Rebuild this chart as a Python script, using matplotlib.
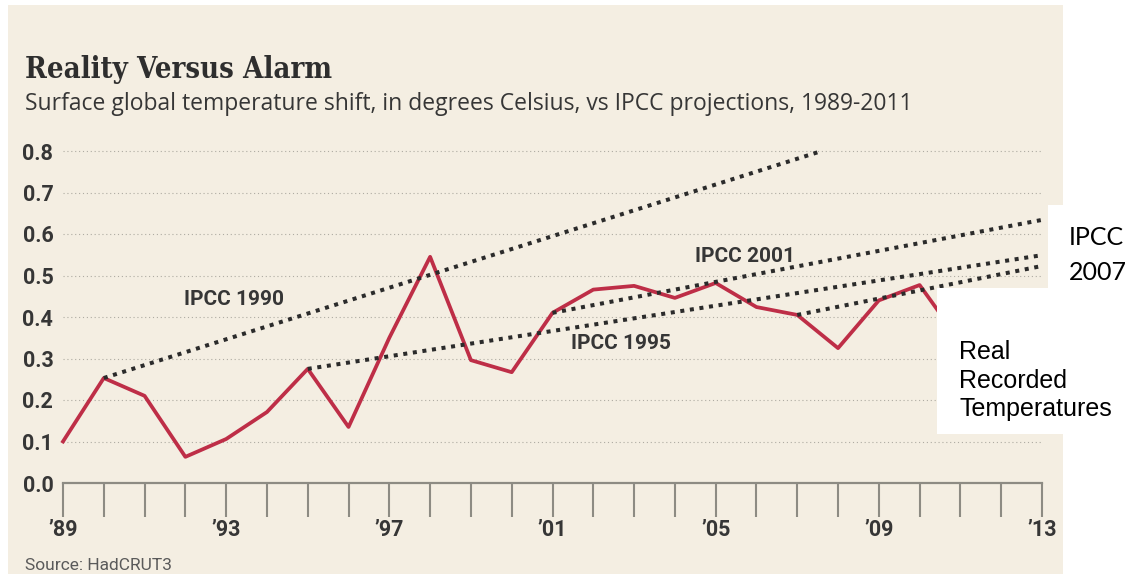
import numpy as np
import matplotlib
matplotlib.use('Agg')
import matplotlib.pyplot as plt
from matplotlib.patches import Rectangle

# HadCRUT3 annual anomalies
years = list(range(1989, 2012))
real_temps = [0.10, 0.253, 0.21, 0.063, 0.106, 0.171, 0.275, 0.135, 0.35, 0.545,
              0.296, 0.267, 0.41, 0.466, 0.475, 0.446, 0.482, 0.424, 0.405, 0.325,
              0.44, 0.477, 0.34]

# IPCC projection lines (start / end points)
ipcc_1990_x = [1990, 2007.6]
ipcc_1990_y = [0.253, 0.80]
ipcc_1995_x = [1995, 2013]
ipcc_1995_y = [0.275, 0.549]
ipcc_2001_x = [2001, 2013]
ipcc_2001_y = [0.41, 0.634]
ipcc_2007_x = [2007, 2013]
ipcc_2007_y = [0.405, 0.523]

major_years = list(range(1989, 2014, 4))
major_labels = ['\u2019' + str(y)[2:] for y in major_years]
y_ticks = [round(v * 0.1, 1) for v in range(0, 9)]

W, H = 1133, 575
NARROW = ['Liberation Sans Narrow', 'Roboto', 'DejaVu Sans']
TXT = '#363636'
BEIGE = '#f4eee2'

fig = plt.figure(figsize=(W / 100, H / 100), dpi=100)
fig.patch.set_facecolor('white')


def px_rect(x0, y0, x1, y1, color, z):
    # rectangle given in pixel coords measured from the top-left corner
    r = Rectangle((x0 / W, 1 - y1 / H), (x1 - x0) / W, (y1 - y0) / H,
                  transform=fig.transFigure, facecolor=color, edgecolor='none',
                  zorder=z)
    fig.add_artist(r)


px_rect(8, 5, 1063, 574, BEIGE, -1)

ax = fig.add_axes([63 / W, 1 - 483 / H, (1042 - 63) / W, (483 - 142.7) / H])
ax.patch.set_visible(False)
ax.set_xlim(1989, 2013)
ax.set_ylim(0, 0.82)

for s in ['left', 'right', 'top']:
    ax.spines[s].set_visible(False)
ax.spines['bottom'].set_color('#8d8b83')
ax.spines['bottom'].set_linewidth(1.6)

ax.set_xticks(major_years)
ax.set_xticklabels(major_labels)
ax.set_xticks(range(1989, 2014), minor=True)
ax.tick_params(axis='x', which='both', length=24.5, width=1.5, color='#8d8b83',
               pad=1.5)
ax.set_yticks(y_ticks)
ax.set_yticklabels([f'{v:.1f}' for v in y_ticks])
ax.tick_params(axis='y', length=0, pad=7)
for lab in ax.get_xticklabels() + ax.get_yticklabels():
    lab.set_family(NARROW)
    lab.set_fontweight('bold')
    lab.set_fontsize(15.5)
    lab.set_color(TXT)

ax.grid(axis='y', linestyle=(0, (1, 2.5)), color='#aeaba2', linewidth=0.8)
ax.set_axisbelow(True)

ax.plot(years, real_temps, color='#be2e47', lw=2.7, clip_on=False, zorder=3)

dots = dict(color='#2b2b2b', lw=2.9, linestyle=(0, (1, 1.4)),
            dash_capstyle='butt', zorder=4)
ax.plot(ipcc_1990_x, ipcc_1990_y, **dots)
ax.plot(ipcc_1995_x, ipcc_1995_y, **dots)
ax.plot(ipcc_2001_x, ipcc_2001_y, **dots)
ax.plot(ipcc_2007_x, ipcc_2007_y, **dots)

lab_kw = dict(ha='center', va='center', fontsize=15, fontweight='bold',
              family=NARROW, color=TXT, zorder=5)
ax.text(1993.2, 0.443, 'IPCC 1990', **lab_kw)
ax.text(2002.68, 0.337, 'IPCC 1995', **lab_kw)
ax.text(2005.72, 0.545, 'IPCC 2001', **lab_kw)

# headline texts
fig.text(25 / W, 1 - 78 / H, 'Reality Versus Alarm', va='baseline', ha='left',
         fontsize=21, family='DejaVu Serif', fontweight='bold',
         fontstretch='condensed', color='#2e2e2e')
fig.text(25 / W, 1 - 110 / H,
         'Surface global temperature shift, in degrees Celsius, vs IPCC projections, 1989-2011',
         va='baseline', ha='left', fontsize=16.5, family=['Open Sans', 'DejaVu Sans'],
         color=TXT)
fig.text(25 / W, 1 - 570 / H, 'Source: HadCRUT3', va='baseline', ha='left',
         fontsize=12.5, family=NARROW, color='#5a5a5a')

# white boxes pasted on the right with their own labels
px_rect(1048, 205, 1133, 290, 'white', 3)
px_rect(937, 288, 1133, 434, 'white', 3)
fig.text(1069 / W, 1 - 245 / H, 'IPCC', va='baseline', ha='left', fontsize=18,
         family=['Lato', 'DejaVu Sans'], color='black', zorder=4)
fig.text(1069 / W, 1 - 280 / H, '2007', va='baseline', ha='left', fontsize=18,
         family=['Lato', 'DejaVu Sans'], color='black', zorder=4)
for word, base in [('Real', 359), ('Recorded', 388), ('Temperatures', 416)]:
    fig.text(959 / W, 1 - base / H, word, va='baseline', ha='left', fontsize=18,
             family=['Liberation Sans', 'DejaVu Sans'], color='black', zorder=4)

fig.savefig('out.png', dpi=100, facecolor=fig.get_facecolor())
